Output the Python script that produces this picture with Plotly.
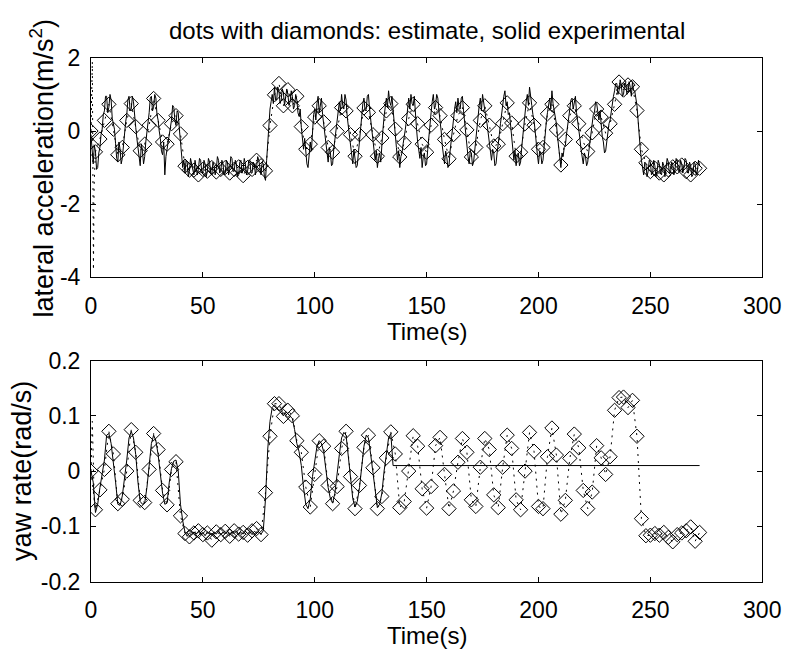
import numpy as np
import plotly.graph_objects as go

# ---------------- data ----------------
# estimate (diamonds), sampled every 2 s
t_est = list(range(0, 273, 2))
lat_est = [0.0, -0.57, -0.22, 0.29, 0.73, 0.05, -0.65, -0.45, 0.29, 0.75,
           0.12, -0.54, -0.36, 0.16, 0.89, 0.29, -0.30, -0.36, 0.20, 0.42,
           -0.08, -0.96, -1.07, -1.07, -1.20, -1.05, -1.10, -1.00, -1.12, -1.05,
           -1.00, -1.15, -1.05, -0.98, -1.22, -1.00, -1.05, -0.80, -0.95, -1.09,
           0.15, 0.99, 1.30, 0.69, 1.13, 0.69, 0.95, 0.12, -0.50, -0.36,
           0.38, 0.69, 0.25, -0.45, -0.58, -0.01, 0.64, 0.55, -0.10, -0.69,
           -0.10, 0.63, 0.51, -0.10, -0.69, -0.19, 0.55, 0.75, 0.05, -0.71,
           -0.32, 0.34, 0.73, 0.20, -0.36, -0.58, 0.16, 0.64, 0.42, -0.23,
           -0.76, -0.10, 0.42, 0.64, 0.03, -0.71, -0.45, 0.29, 0.69, 0.16,
           -0.41, -0.36, 0.20, 0.77, 0.22, -0.69, -0.58, 0.20, 0.77, 0.16,
           -0.50, -0.45, 0.47, 0.73, 0.03, -0.93, -0.23, 0.42, 0.69, 0.20,
           -0.30, -0.56, -0.05, 0.60, 0.38, -0.06, 0.20, 0.73, 1.34, 1.12,
           1.26, 1.21, 0.56, -0.50, -0.87, -1.11, -1.02, -1.15, -1.20, -1.06,
           -0.98, -0.98, -0.93, -1.11, -1.20, -1.02, -1.02]
yaw_est = [0.0, -0.070, -0.034, 0.003, 0.072, 0.031, -0.059, -0.051, 0.000, 0.075,
           0.034, -0.053, -0.057, 0.003, 0.068, 0.039, -0.035, -0.061, 0.003, 0.017,
           -0.081, -0.113, -0.119, -0.112, -0.108, -0.115, -0.112, -0.125, -0.110, -0.115,
           -0.109, -0.118, -0.108, -0.114, -0.111, -0.116, -0.108, -0.104, -0.115, -0.039,
           0.063, 0.122, 0.122, 0.099, 0.110, 0.100, 0.055, 0.034, -0.029, -0.065,
           -0.006, 0.055, 0.045, -0.026, -0.059, -0.028, 0.041, 0.072, -0.010, -0.068,
           -0.026, 0.043, 0.065, 0.006, -0.068, -0.046, 0.024, 0.071, 0.031, -0.066,
           -0.055, 0.000, 0.064, 0.045, -0.032, -0.067, -0.028, 0.046, 0.061, -0.006,
           -0.068, -0.036, 0.016, 0.059, 0.034, -0.052, -0.064, 0.007, 0.059, 0.039,
           -0.043, -0.066, 0.007, 0.065, 0.041, -0.052, -0.070, 0.000, 0.070, 0.036,
           -0.064, -0.068, 0.026, 0.078, 0.029, -0.078, -0.053, 0.023, 0.067, 0.042,
           -0.035, -0.068, -0.038, 0.046, 0.024, -0.006, 0.026, 0.110, 0.133, 0.134,
           0.115, 0.128, 0.063, -0.086, -0.117, -0.116, -0.113, -0.116, -0.111, -0.120,
           -0.128, -0.115, -0.112, -0.108, -0.101, -0.127, -0.111]

# initial transient of the estimate (dotted only)
t_est_start = [0.0, 0.6, 1.1, 1.4, 2.0]
lat_est_start = [0.0, 1.9, -3.8, -1.5, -0.57]
yaw_est_start = [0.0, 0.09, 0.01, -0.05, -0.070]

# experimental lateral acceleration, 0.5 s samples (0 ... 272 s)
t_exp_lat = np.arange(0, 272.5, 0.5)
lat_exp = [
    -0.10, -0.60, -0.90, -0.40, -0.55, -1.05, -1.00, -0.60, -0.45, -0.10,
    0.05, 0.45, 0.55, 0.95, 0.95, 0.50, 0.65, 1.00, 0.85, 0.35,
    0.20, 0.05, -0.35, -0.75, -0.85, -0.30, -0.50, -0.90, -0.75, -0.35,
    -0.10, 0.25, 0.45, 0.85, 0.95, 0.55, 0.60, 0.95, 0.80, 0.30,
    0.10, -0.20, -0.50, -0.80, -0.95, -0.35, -0.55, -0.90, -0.70, -0.30,
    -0.05, 0.30, 0.50, 0.90, 0.95, 0.55, 0.65, 1.00, 0.90, 0.45,
    0.30, 0.00, -0.20, -0.55, -0.65, -0.30, -1.20, -0.70, -0.50, -0.25,
    -0.15, 0.15, 0.30, 0.70, 0.65, 0.30, 0.15, 0.55, 0.50, 0.05,
    -0.30, -0.70, -1.00, -0.80, -1.15, -0.80, -0.85, -1.25, -1.10, -0.75,
    -0.90, -1.15, -1.20, -0.80, -0.95, -1.20, -1.05, -0.75, -0.80, -1.10,
    -1.15, -0.80, -0.90, -1.25, -1.10, -0.75, -0.85, -1.15, -1.20, -0.85,
    -0.95, -1.20, -1.05, -0.70, -0.80, -1.15, -1.10, -0.80, -0.90, -1.20,
    -1.15, -0.80, -0.85, -1.20, -1.05, -0.70, -0.75, -1.10, -1.10, -0.80,
    -0.90, -1.25, -1.20, -0.85, -0.80, -1.15, -1.05, -0.75, -0.90, -1.20,
    -1.10, -0.80, -0.80, -1.15, -1.15, -0.85, -0.90, -1.20, -1.00, -0.70,
    -0.80, -1.10, -1.20, -0.85, -0.90, -1.25, -1.35, -0.80, -0.20, 0.30,
    0.60, 0.80, 1.00, 0.75, 1.20, 0.85, 0.85, 1.20, 1.10, 0.75,
    0.85, 1.15, 1.05, 0.70, 0.90, 1.15, 1.00, 0.70, 0.80, 1.10,
    0.95, 0.60, 0.70, 1.00, 0.85, 0.50, 0.40, 0.60, 0.10, -0.20,
    -0.50, -0.20, -0.60, -0.90, -1.00, -0.60, -0.30, -0.55, 0.20, 0.45,
    0.60, 0.30, 0.75, 0.95, 0.50, 0.70, 0.90, 0.45, 0.20, -0.10,
    -0.40, -0.65, -0.85, -0.45, -0.60, -0.95, -0.90, -0.50, -0.20, 0.05,
    0.30, 0.60, 0.80, 0.55, 1.00, 0.70, 0.60, 1.00, 0.85, 0.40,
    0.10, -0.20, -0.50, -0.75, -0.90, -0.50, -0.70, -1.00, -0.95, -0.55,
    -0.20, 0.10, 0.40, 0.75, 0.90, 0.55, 0.60, 0.95, 1.00, 0.60,
    0.30, 0.00, -0.30, -0.60, -0.80, -0.55, -1.00, -0.75, -0.60, -0.85,
    -0.30, 0.05, 0.40, 0.70, 0.90, 0.65, 1.10, 0.80, 0.70, 0.95,
    0.50, 0.20, -0.10, -0.45, -0.80, -0.55, -1.00, -0.70, -0.60, -0.35,
    -0.20, 0.05, 0.30, 0.65, 0.90, 0.60, 1.00, 0.75, 0.70, 0.95,
    0.40, 0.05, -0.30, -0.55, -0.75, -0.45, -1.00, -0.70, -0.60, -0.95,
    -0.90, -0.50, -0.10, 0.20, 0.50, 0.80, 1.00, 0.60, 0.70, 1.00,
    0.90, 0.55, 0.30, 0.00, -0.40, -0.65, -0.90, -0.55, -0.70, -1.00,
    -0.95, -0.55, -0.20, 0.05, 0.30, 0.60, 0.80, 0.50, 0.90, 0.65,
    0.60, 0.90, 0.95, 0.55, 0.20, -0.05, -0.40, -0.70, -0.90, -0.55,
    -0.60, -0.95, -0.85, -0.50, -0.20, 0.10, 0.40, 0.70, 0.90, 0.55,
    1.00, 0.75, 0.60, 0.35, 0.20, -0.05, -0.30, -0.60, -0.80, -0.50,
    -0.60, -0.95, -0.90, -0.60, -0.40, -0.10, 0.20, 0.50, 0.70, 0.95,
    1.10, 0.70, 0.80, 0.45, 0.50, 0.15, -0.20, -0.50, -0.80, -0.55,
    -0.95, -0.65, -0.60, -0.95, -0.85, -0.45, -0.10, 0.20, 0.50, 0.80,
    1.00, 0.70, 1.20, 0.85, 0.70, 0.45, 0.30, 0.00, -0.40, -0.65,
    -0.90, -0.55, -0.60, -0.90, -0.80, -0.40, 0.00, 0.25, 0.50, 0.80,
    0.90, 0.60, 1.10, 0.75, 0.60, 0.35, 0.20, -0.15, -0.50, -0.75,
    -1.00, -0.60, -0.70, -0.45, -0.40, -0.10, 0.20, 0.45, 0.60, 0.85,
    0.90, 0.60, 0.80, 0.95, 0.50, 0.30, 0.10, -0.20, -0.50, -0.75,
    -0.90, -0.60, -0.70, -0.95, -0.85, -0.55, -0.30, 0.00, 0.20, 0.45,
    0.50, 0.80, 0.75, 0.45, 0.30, 0.55, 0.10, -0.15, -0.30, -0.60,
    -0.55, -0.25, 0.00, 0.20, 0.30, 0.55, 0.70, 0.95, 1.10, 1.30,
    1.30, 1.00, 1.10, 1.40, 1.25, 0.95, 1.00, 1.30, 1.30, 1.00,
    1.05, 1.35, 1.20, 0.95, 1.35, 1.10, 1.10, 0.90, 0.70, 0.30,
    -0.20, -0.50, -0.80, -1.10, -1.20, -0.85, -0.90, -1.25, -1.10, -0.80,
    -0.85, -1.20, -1.15, -0.80, -0.95, -1.25, -1.10, -0.80, -0.90, -1.15,
    -1.20, -0.85, -0.95, -1.25, -1.05, -0.75, -0.85, -1.15, -1.15, -0.85,
    -0.90, -1.20, -1.05, -0.75, -0.80, -1.10, -1.10, -0.80, -0.90, -1.15,
    -1.00, -0.75, -0.80, -1.10, -1.15, -0.85, -0.95, -1.25, -1.20, -0.85,
    -0.90, -1.20, -1.10, -0.80, -0.95]

# experimental yaw rate, 1 s samples until the sensor goes flat
t_exp_yaw = list(range(0, 136)) + [272]
yaw_exp = [0.000, -0.020, -0.075, -0.060, -0.030, 0.000, 0.020, 0.065, 0.068, 0.050,
           0.020, -0.020, -0.060, -0.062, -0.045, -0.015, 0.020, 0.060, 0.072, 0.060,
           0.030, -0.020, -0.055, -0.060, -0.058, -0.030, 0.010, 0.050, 0.065, 0.055,
           0.030, -0.010, -0.040, -0.060, -0.058, -0.020, 0.005, 0.018, 0.020, 0.000,
           -0.060, -0.090, -0.110, -0.118, -0.112, -0.116, -0.110, -0.114, -0.109, -0.115,
           -0.111, -0.117, -0.110, -0.113, -0.116, -0.110, -0.114, -0.108, -0.115, -0.111,
           -0.113, -0.109, -0.116, -0.110, -0.113, -0.108, -0.115, -0.111, -0.114, -0.109,
           -0.113, -0.110, -0.115, -0.109, -0.112, -0.110, -0.114, -0.108, -0.050, 0.040,
           0.090, 0.115, 0.120, 0.115, 0.110, 0.105, 0.100, 0.108, 0.103, 0.100,
           0.095, 0.075, 0.050, 0.035, 0.010, -0.030, -0.060, -0.068, -0.050, -0.010,
           0.020, 0.045, 0.055, 0.050, 0.035, 0.000, -0.030, -0.050, -0.058, -0.040,
           -0.010, 0.030, 0.060, 0.070, 0.065, 0.030, -0.010, -0.050, -0.065, -0.055,
           -0.030, 0.010, 0.045, 0.065, 0.060, 0.030, 0.000, -0.040, -0.066, -0.060,
           -0.040, 0.000, 0.030, 0.060, 0.068, 0.010, 0.010]

x_ticks = [0, 50, 100, 150, 200, 250, 300]
lat_ticks = [-4, -2, 0, 2]
lat_tick_text = ["-4", "-2", "0", "2"]
yaw_ticks = [-0.2, -0.1, 0, 0.1, 0.2]
yaw_tick_text = ["-0.2", "-0.1", "0", "0.1", "0.2"]

# ---------------- figure ----------------
W, H = 805, 666
FONT = "Arial, 'Liberation Sans', Helvetica, sans-serif"
FS_TICK = 23
FS_TITLE = 24
FS_YLAB = 27
x_dom = [87.7 / W, 780.5 / W]
top_dom = [1 - 275.0 / H, 1 - 46.7 / H]
bot_dom = [1 - 591.7 / H, 1 - 361.7 / H]

fig = go.Figure()
line_exp = dict(color="black", width=1)
line_est = dict(color="black", width=1, dash="2px,5px")
mk = dict(symbol="diamond-open", size=11, color="black", line=dict(width=1, color="black"))

# top plot
fig.add_trace(go.Scatter(x=t_est_start, y=lat_est_start, mode="lines", line=line_est,
                         xaxis="x", yaxis="y", showlegend=False))
fig.add_trace(go.Scatter(x=t_est, y=lat_est, mode="lines+markers", line=line_est, marker=mk,
                         xaxis="x", yaxis="y", showlegend=False))
fig.add_trace(go.Scatter(x=t_exp_lat, y=lat_exp, mode="lines", line=line_exp,
                         xaxis="x", yaxis="y", showlegend=False))
# bottom plot
fig.add_trace(go.Scatter(x=t_est_start, y=yaw_est_start, mode="lines", line=line_est,
                         xaxis="x2", yaxis="y2", showlegend=False))
fig.add_trace(go.Scatter(x=t_est, y=yaw_est, mode="lines+markers", line=line_est, marker=mk,
                         xaxis="x2", yaxis="y2", showlegend=False))
fig.add_trace(go.Scatter(x=t_exp_yaw, y=yaw_exp, mode="lines", line=line_exp,
                         xaxis="x2", yaxis="y2", showlegend=False))

ax_common = dict(showline=True, linecolor="black", linewidth=1, mirror="ticks",
                 ticks="inside", ticklen=5, tickwidth=1, tickcolor="black",
                 showgrid=False, zeroline=False,
                 tickfont=dict(family=FONT, size=FS_TICK, color="black"))

fig.update_layout(
    width=W, height=H,
    margin=dict(l=0, r=0, t=0, b=0),
    paper_bgcolor="white", plot_bgcolor="white",
    font=dict(family=FONT, size=FS_TICK, color="black"),
    showlegend=False,
    xaxis=dict(domain=x_dom, anchor="y", range=[0, 300], tickvals=x_ticks,
               ticklabelstandoff=8, **ax_common),
    yaxis=dict(domain=top_dom, anchor="x", range=[-4, 2], tickvals=lat_ticks,
               ticktext=lat_tick_text, ticklabelstandoff=5, **ax_common),
    xaxis2=dict(domain=x_dom, anchor="y2", range=[0, 300], tickvals=x_ticks,
                ticklabelstandoff=8, **ax_common),
    yaxis2=dict(domain=bot_dom, anchor="x2", range=[-0.2, 0.2], tickvals=yaw_ticks,
                ticktext=yaw_tick_text, ticklabelstandoff=5, **ax_common),
    annotations=[
        dict(text="dots with diamonds: estimate, solid experimental", xref="paper", yref="paper",
             x=434 / W, y=1 - 18 / H, xanchor="center", yanchor="middle", showarrow=False,
             font=dict(family=FONT, size=FS_TITLE, color="black")),
        dict(text="Time(s)", xref="paper", yref="paper", x=434 / W, y=1 - 331 / H,
             xanchor="center", yanchor="middle", showarrow=False,
             font=dict(family=FONT, size=FS_TITLE, color="black")),
        dict(text="Time(s)", xref="paper", yref="paper", x=434 / W, y=1 - 648 / H,
             xanchor="center", yanchor="middle", showarrow=False,
             font=dict(family=FONT, size=FS_TITLE, color="black")),
        dict(text="lateral acceleration(m/s<sup>2</sup>)", xref="paper", yref="paper",
             x=37 / W, y=1 - 161 / H, xanchor="center", yanchor="middle", textangle=-90,
             showarrow=False, font=dict(family=FONT, size=FS_YLAB, color="black")),
        dict(text="yaw rate(rad/s)", xref="paper", yref="paper",
             x=17 / W, y=1 - 476 / H, xanchor="center", yanchor="middle", textangle=-90,
             showarrow=False, font=dict(family=FONT, size=FS_YLAB, color="black")),
    ],
)

fig.write_html("out.html")
